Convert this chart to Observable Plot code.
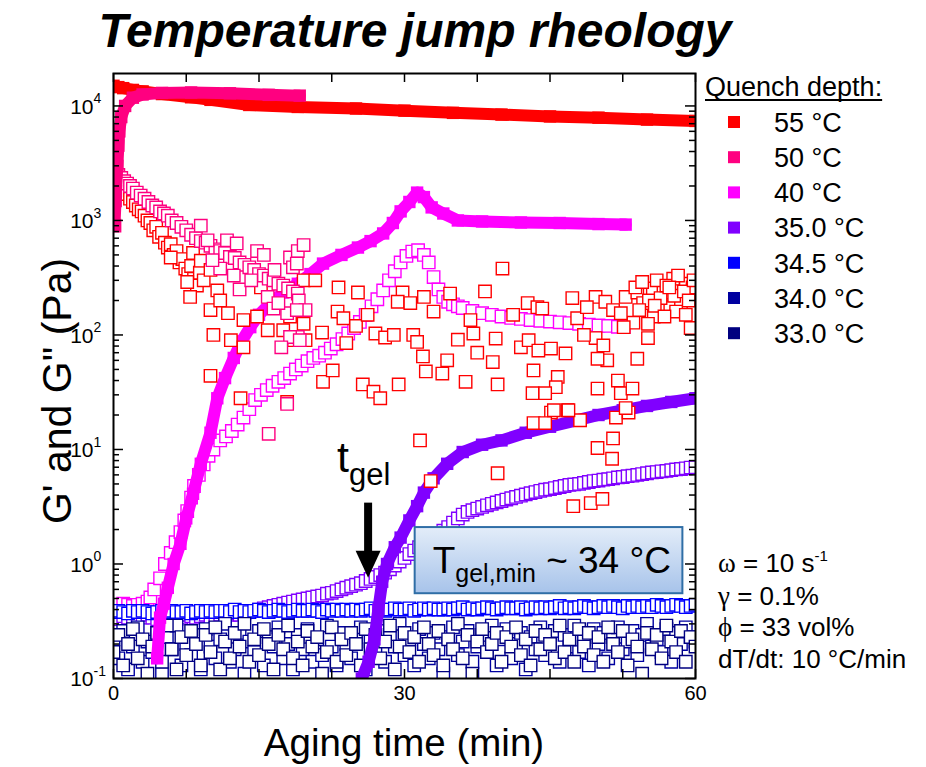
<!DOCTYPE html>
<html>
<head>
<meta charset="utf-8">
<script src="https://cdn.jsdelivr.net/npm/d3@7"></script>
<script src="https://cdn.jsdelivr.net/npm/@observablehq/plot@0.6"></script>
<style>
  html, body { margin: 0; padding: 0; background: #fff; }
  #chart svg { display: block; }
</style>
</head>
<body>
<div id="chart"></div>
<script>
// ---------------------------------------------------------------
// Temperature-jump rheology: G' (filled) and G'' (open) vs aging time
// ---------------------------------------------------------------

const titleText = "Temperature jump rheology";
const xTitle = "Aging time (min)";
const yTitle = "G' and G\" (Pa)";
const legendTitle = "Quench depth:";
const legendLabels = ["55 °C", "50 °C", "40 °C", "35.0 °C", "34.5 °C", "34.0 °C", "33.0 °C"];
const legendColors = ["#ff0000", "#ff0080", "#ff00ff", "#8000ff", "#0000ff", "#0000a0", "#000080"];

// axis ticks
const xTicks = [0, 7.5, 15, 22.5, 30, 37.5, 45, 52.5, 60];
const xTickLabels = [0, 30, 60];
const yMajor = [0.1, 1, 10, 100, 1000, 10000];
const yExp = ["-1", "0", "1", "2", "3", "4"];
const yMinor = [0.2, 0.3, 0.4, 0.5, 0.6, 0.7, 0.8, 0.9,
                2, 3, 4, 5, 6, 7, 8, 9,
                20, 30, 40, 50, 60, 70, 80, 90,
                200, 300, 400, 500, 600, 700, 800, 900,
                2000, 3000, 4000, 5000, 6000, 7000, 8000, 9000];

// regular 0.5 min sampling grid used by the low-temperature runs
const tGrid = [0,0.5,1,1.5,2,2.5,3,3.5,4,4.5,5,5.5,6,6.5,7,7.5,8,8.5,9,9.5,10,10.5,11,11.5,12,12.5,13,13.5,14,14.5,15,15.5,16,16.5,17,17.5,18,18.5,19,19.5,20,20.5,21,21.5,22,22.5,23,23.5,24,24.5,25,25.5,26,26.5,27,27.5,28,28.5,29,29.5,30,30.5,31,31.5,32,32.5,33,33.5,34,34.5,35,35.5,36,36.5,37,37.5,38,38.5,39,39.5,40,40.5,41,41.5,42,42.5,43,43.5,44,44.5,45,45.5,46,46.5,47,47.5,48,48.5,49,49.5,50,50.5,51,51.5,52,52.5,53,53.5,54,54.5,55,55.5,56,56.5,57,57.5,58,58.5,59,59.5,60];

// 55 °C — G' (Pa)
const t1_55 = [0, 0.5, 1, 2, 3, 5, 8, 10, 14, 19, 25, 30, 35, 40, 45, 50, 55, 60];
const g1_55 = [15000, 14600, 14300, 13800, 13400, 12700, 11900, 11300, 10200, 9800, 9500, 9100, 8700, 8400, 8100, 7900, 7600, 7400];

// 50 °C — G' (Pa)
const t1_50 = [0.1, 0.25, 0.4, 0.5, 0.6, 0.8, 1.2, 2, 3, 5, 8, 12, 16, 19.2];
const g1_50 = [900, 1800, 3000, 4500, 6000, 8000, 10000, 11800, 12600, 13000, 13100, 12900, 12500, 12300];

// 40 °C — G' (Pa)
const t1_40 = [4.5, 4.8, 5.2, 5.6, 6.2, 6.9, 7.5, 8.2, 9, 10, 10.7, 11.5, 12.4, 13.2, 14.1, 15, 16.2, 17.5, 19, 20.3, 21.6, 23.5, 25.2, 26.5, 27.8, 28.8, 29.6, 30.5, 31.3, 32, 32.8, 34, 35.5, 38, 42, 46, 50, 52.8];
const g1_40 = [0.15, 0.34, 0.45, 0.62, 1.0, 1.5, 2.5, 4.1, 7.5, 14, 28, 42, 63, 88, 117, 150, 190, 235, 280, 340, 420, 500, 580, 660, 770, 950, 1200, 1450, 1750, 1600, 1300, 1150, 1000, 980, 960, 950, 930, 920];

// 35.0 °C — G' (Pa)
const t1_35 = [25.6, 26.3, 26.9, 27.3, 27.7, 28.2, 29, 29.6, 30.5, 31.3, 32, 33, 34.4, 36, 38, 40, 42.5, 45, 47.5, 50, 52.5, 55, 57.5, 60];
const g1_35 = [0.1, 0.14, 0.22, 0.4, 0.7, 1.0, 1.4, 1.7, 2.4, 3.2, 4.2, 5.6, 7.5, 9.5, 11, 12, 14, 15.8, 17.8, 20, 22, 24, 26, 28];

// 55 °C — G'' (Pa), [time, value]
const g2_55 = [
  [0.2,2300],[0.5,2150],[0.8,1950],[1.1,1800],[1.4,1700],[1.7,1550],[2,1450],[2.3,1350],[2.6,1250],[2.9,1200],
  [3.2,1100],[3.5,1000],[3.8,950],[4.1,820],[4.4,880],[4.7,720],[5,780],[5.3,640],[5.6,580],[5.9,620],
  [6.2,500],[6.5,540],[6.8,430],[7.1,460],[7.4,380],[7.7,340],[8,400],[8.3,310],[8.6,270],[8.9,350],
  [5.9,475],[7.6,290],[7.9,215],[8.2,520],[9.0,445],[9.3,300],[10.0,370],[10.0,165],[10.7,245],[11.0,200],
  [11.8,155],[12.1,90],[13.4,135],[13.4,78],[10.3,100],[10.0,44],[14.8,145],[15.2,260],[15.9,110],[17.5,110],
  [18.2,145],[18.6,90],[19.6,125],[13.1,28],[17.9,26],[19.6,300],[20.8,300],[23.2,260],[25.2,235],[29.8,235],
  [29.3,195],[30.6,190],[32.0,215],[33.0,160],[34.7,230],[40.1,380],[42.7,190],[43.7,175],[23.1,160],[23.7,140],
  [21.5,105],[19.8,90],[27.0,103],[28.0,95],[28.9,100],[30.9,100],[31.3,87],[31.9,65],[34.4,60],[32.2,48],
  [33.9,46],[35.5,91],[37.1,103],[37.5,70],[39.4,93],[39.1,58],[36.3,39],[39.6,37],[21.6,39],[22.6,49],
  [25.7,37],[26.8,32],[27.5,28],[29.4,37],[42.0,78],[42.8,90],[43.3,49],[43.2,31],[43.3,17],[31.6,12],
  [44.2,170],[47.3,210],[49.7,215],[50.7,195],[51.5,165],[52.8,215],[54.0,235],[55.6,255],[57.7,310],[59.0,280],
  [59.7,260],[56.7,235],[57.4,175],[58.5,190],[54.6,190],[55.7,145],[55.1,125],[53.6,128],[52.3,155],[52.6,117],
  [55.1,94],[54.0,62],[49.7,94],[48.5,100],[50.5,81],[50.9,60],[49.9,62],[59.5,115],[43.8,73],[45.1,76],
  [46.6,69],[45.8,43],[45.6,35],[44.5,31],[49.9,34],[52.0,40],[52.3,31],[53.5,34],[45.1,21],[46.8,22],
  [48.1,18],[44.5,17],[51.8,19],[53.1,21],[51.5,12.5],[49.9,10.3],[51.4,8.3],[32.7,5.3],[39.6,6.2],[45.4,22],
  [46.9,22],[47.4,3.2],[49.2,3.4],[50.4,3.7],[52.8,23],[53.8,260],[54.5,290],[55.2,200],[56.0,300],[56.4,210],
  [57.0,270],[57.8,220],[58.2,330],[58.8,240],[59.3,200],[59.8,300],[58.0,160],[59.0,150],[55.8,180],[57.3,260],
  [54.2,165],[56.8,145],[25.0,120],[24.0,85],[26.2,150],[36.8,135],[38.3,240],[41.2,150],[47.8,140],[48.8,175]
];

// 50 °C — G'' (Pa), [time, value]
const g2_50 = [
  [0.1,900],[0.15,1500],[0.2,2700],[0.5,2500],[0.8,2350],[1.1,2200],[1.4,2100],[1.7,2000],[2,1900],[2.4,1750],
  [2.8,1650],[3.2,1550],[3.6,1450],[4,1350],[4.4,1300],[4.8,1200],[5.2,1150],[5.6,1100],[6,1000],[6.5,950],
  [7,880],[7.5,820],[8,750],[8.5,700],[9,660],[9.5,640],[10,600],[10.5,560],[11,540],[11.5,520],
  [12,480],[12.5,470],[13,430],[13.5,410],[14,390],[14.5,370],[15,340],[15.5,330],[16,310],[16.5,300],
  [17,280],[17.5,270],[18,255],[18.5,240],[19,230],
  [9.0,900],[9.7,670],[11.7,670],[12.7,630],[14.8,540],[15.5,500],[18.2,475],[18.5,390],[19.0,540],[19.6,610],
  [18.9,420],[19.1,200],[19.8,165],[19.0,96],[17.9,25],[16.0,13.7],[16.6,370],[15.9,215],[16.5,170],[17.9,155],
  [18.2,96],[18.9,165],[19.2,90],[17.3,78],[13.0,250],[14.2,300],[11.0,380],[12.4,330],[10.2,450],[17.0,190]
];

// 40 °C — G'' (Pa), [time, value]
const g2_40 = [
  [1,0.45],[1.5,0.44],[2,0.43],[2.5,0.44],[3,0.45],[3.5,0.47],[3.8,0.51],[4.2,0.6],[4.8,0.75],[5.3,1.0],
  [5.9,1.25],[6.4,1.55],[6.9,1.9],[7.3,2.4],[7.6,2.9],[8,3.8],[8.3,4.8],[8.8,6.0],[9.3,7.4],[9.8,8.8],
  [10.3,10],[11,12],[11.6,13],[12.2,14.5],[12.8,16.5],[13.4,19],[14,22.5],[14.6,27],[15.2,30],[15.8,33],
  [16.4,36],[17,39],[17.6,42],[18.2,46],[18.8,50],[19.4,54],[20,59],[20.6,63],[21.2,66],[21.8,70],
  [22.4,76],[23,83],[23.6,92],[24.2,103],[24.8,115],[25.4,130],[26,150],[26.6,178],[27.2,205],[27.8,245],
  [28.4,300],[29,360],[29.6,430],[30.2,490],[30.8,535],[31.4,550],[32,500],[32.5,430],[33,320],[33.5,250],
  [34,215],[34.5,195],[35,185],[35.5,178],[36,172],[37,162],[38,155],[39,150],[40,145],[41,141],
  [42,138],[43,135],[44,133],[45,131],[46,129],[47,127],[48,125],[49,123],[50,121],[51,120],
  [52,118],[52.6,117]
];

// 35.0 °C — G'' (Pa) on tGrid
const g2_35 = [
  0.34,0.33,0.35,0.34,0.33,0.35,0.34,0.36,0.34,0.33,0.35,0.34,0.35,0.33,0.34,0.36,0.35,0.34,0.35,0.36,
  0.34,0.35,0.36,0.35,0.36,0.37,0.36,0.37,0.38,
  0.39,0.4,0.41,0.42,0.43,0.44,0.45,0.46,
  0.47,0.48,0.49,0.5,0.51,0.52,0.53,0.55,0.56,0.58,0.6,0.62,0.64,0.66,0.68,0.71,0.74,0.77,0.8,
  0.84,0.9,0.97,1.05,1.13,1.22,1.31,1.4,1.5,1.6,1.7,1.82,1.95,2.1,2.3,2.5,2.7,2.85,2.95,3.05,
  3.15,3.25,3.35,3.45,3.55,3.65,3.75,3.85,3.95,4.05,4.15,4.25,4.35,4.45,4.5,4.6,4.7,4.8,4.9,4.95,
  5.0,5.1,5.2,5.3,5.35,5.45,5.5,5.6,5.7,5.75,5.85,5.9,6.0,6.1,6.2,6.3,6.35,6.45,6.5,6.6,
  6.7,6.75,6.85,6.95,7.0
];

// 34.5 °C — G'' (Pa) on tGrid
const g2_345 = [
  0.38,0.39,0.38,0.37,0.39,0.38,0.39,0.38,0.37,0.38,
  0.39,0.38,0.39,0.38,0.38,0.39,0.37,0.38,0.39,0.38,
  0.39,0.38,0.39,0.39,0.38,0.4,0.38,0.39,0.38,0.39,
  0.4,0.39,0.38,0.39,0.4,0.39,0.38,0.39,0.4,0.39,
  0.39,0.4,0.39,0.38,0.4,0.39,0.4,0.39,0.4,0.39,
  0.4,0.39,0.4,0.41,0.39,0.4,0.39,0.4,0.41,0.4,
  0.4,0.41,0.39,0.4,0.41,0.4,0.41,0.4,0.4,0.41,
  0.4,0.41,0.42,0.4,0.41,0.4,0.41,0.42,0.41,0.4,
  0.41,0.42,0.41,0.41,0.42,0.4,0.41,0.42,0.41,0.42,
  0.41,0.42,0.43,0.41,0.42,0.41,0.42,0.43,0.42,0.41,
  0.42,0.43,0.42,0.43,0.42,0.41,0.43,0.42,0.43,0.42,
  0.43,0.42,0.44,0.43,0.42,0.43,0.44,0.43,0.42,0.43,0.44
];

// 34.0 °C — G'' (Pa) on tGrid
const g2_34 = [
  0.22,0.15,0.26,0.12,0.19,0.28,0.14,0.21,0.17,0.25,
  0.11,0.23,0.18,0.29,0.13,0.2,0.16,0.24,0.12,0.27,
  0.19,0.15,0.22,0.3,0.14,0.18,0.25,0.11,0.21,0.17,
  0.26,0.13,0.23,0.19,0.28,0.15,0.2,0.12,0.24,0.18,
  0.27,0.14,0.22,0.16,0.29,0.19,0.13,0.25,0.2,0.15,
  0.23,0.28,0.12,0.21,0.17,0.26,0.14,0.24,0.19,0.3,
  0.16,0.22,0.13,0.27,0.2,0.15,0.25,0.18,0.11,0.23,
  0.28,0.16,0.21,0.26,0.14,0.19,0.24,0.17,0.29,0.13,
  0.22,0.27,0.15,0.2,0.25,0.12,0.23,0.18,0.28,0.16,
  0.21,0.26,0.14,0.24,0.19,0.29,0.17,0.22,0.13,0.27,
  0.2,0.25,0.15,0.23,0.28,0.18,0.21,0.26,0.16,0.24,
  0.3,0.19,0.22,0.17,0.27,0.14,0.25,0.2,0.28,0.23,0.21
];

// 33.0 °C — G'' (Pa) on tGrid
const g2_33 = [
  0.17,0.24,0.13,0.2,0.27,0.15,0.22,0.11,0.19,0.25,
  0.14,0.29,0.18,0.12,0.23,0.16,0.26,0.2,0.13,0.24,
  0.17,0.28,0.12,0.21,0.15,0.25,0.19,0.3,0.14,0.22,
  0.16,0.27,0.2,0.12,0.24,0.18,0.29,0.15,0.21,0.13,
  0.26,0.19,0.23,0.11,0.17,0.28,0.14,0.22,0.16,0.25,
  0.2,0.13,0.27,0.18,0.24,0.15,0.21,0.29,0.12,0.19,
  0.25,0.17,0.23,0.14,0.28,0.2,0.16,0.26,0.13,0.22,
  0.18,0.3,0.15,0.24,0.11,0.21,0.27,0.17,0.2,0.25,
  0.14,0.23,0.19,0.28,0.16,0.22,0.13,0.26,0.18,0.24,
  0.2,0.15,0.29,0.17,0.22,0.14,0.27,0.19,0.25,0.16,
  0.23,0.14,0.28,0.2,0.17,0.26,0.13,0.22,0.19,0.11,
  0.25,0.18,0.24,0.15,0.29,0.21,0.17,0.26,0.14,0.23,0.19
];

// annotations (data coordinates)
const tGel = 26.3;              // gel time marked by the arrow
const arrowFrom = 3.4, arrowTo = 0.75;
const boxT = [31.1, 58.7], boxV = [2.08, 0.55];
const conditions = ["ω = 10 s", "γ = 0.1%", "ϕ = 33 vol%", "dT/dt: 10 °C/min"];

// ---------------------------------------------------------------
const FONT = '"Liberation Sans", Arial, Helvetica, sans-serif';
const SERIF = '"Liberation Serif", "DejaVu Serif", serif';
const W = 926, H = 767;
const M = {top: 73, right: 231, bottom: 89, left: 113};
const FW = W - M.left - M.right;   // frame width
const FH = H - M.top - M.bottom;   // frame height
const SQ = 7;                      // square symbol radius (≈12 px side)

const [C55, C50, C40, C35, C345, C34, C33] = legendColors;

const gridSeries = vals => vals.map((v, i) => ({t: tGrid[i], v}));
const pairSeries = pairs => pairs.map(([t, v]) => ({t, v}));
const listSeries = (ts, vs) => ts.map((t, i) => ({t, v: vs[i]}));

const open = (data, color) => Plot.dot(data, {
  x: "t", y: "v", symbol: "square", r: SQ, fill: "white",
  stroke: color, strokeWidth: 1.4, clip: true
});
const filled = (data, color) => [
  Plot.line(data, {x: "t", y: "v", stroke: color, strokeWidth: 12, strokeLinejoin: "round", clip: true}),
  Plot.dot(data, {x: "t", y: "v", symbol: "square", r: SQ, fill: color, clip: true})
];

const chart = Plot.plot({
  width: W, height: H,
  marginTop: M.top, marginRight: M.right, marginBottom: M.bottom, marginLeft: M.left,
  style: {fontFamily: FONT, background: "white", color: "black", overflow: "visible"},
  x: {domain: [0, 60], axis: null},
  y: {type: "log", domain: [0.1, 19200], axis: null},
  marks: [
    open(gridSeries(g2_35), C35),
    open(pairSeries(g2_40), C40),
    open(gridSeries(g2_345), C345),
    open(gridSeries(g2_34), C34),
    open(gridSeries(g2_33), C33),
    ...filled(listSeries(t1_40, g1_40), C40),
    ...filled(listSeries(t1_35, g1_35), C35),
    open(pairSeries(g2_55), C55),
    open(pairSeries(g2_50), C50),
    ...filled(listSeries(t1_55, g1_55), C55),
    ...filled(listSeries(t1_50, g1_50), C50),

    // inward ticks on all four sides
    Plot.tickX(xTicks, {x: d => d, insetTop: FH - 9, strokeWidth: 1.5}),
    Plot.tickX(xTicks, {x: d => d, insetBottom: FH - 9, strokeWidth: 1.5}),
    Plot.tickY(yMajor, {y: d => d, insetRight: FW - 10, strokeWidth: 1.5}),
    Plot.tickY(yMajor, {y: d => d, insetLeft: FW - 10, strokeWidth: 1.5}),
    Plot.tickY(yMinor, {y: d => d, insetRight: FW - 6, strokeWidth: 1.5}),
    Plot.tickY(yMinor, {y: d => d, insetLeft: FW - 6, strokeWidth: 1.5}),

    // tick labels
    Plot.text(xTickLabels, {x: d => d, frameAnchor: "bottom", dy: 21, text: d => String(d), fontSize: 20}),
    Plot.text(yMajor, {y: d => d, frameAnchor: "left", dx: -20, dy: 1, textAnchor: "end", text: () => "10", fontSize: 21}),
    Plot.text(yMajor, {y: d => d, frameAnchor: "left", dx: -20, dy: -7, textAnchor: "start", text: (d, i) => yExp[i], fontSize: 14}),

    Plot.frame({stroke: "black", strokeWidth: 2})
  ]
});

document.getElementById("chart").appendChild(chart);

// ---------------------------------------------------------------
// titles, legend and annotations
const svg = d3.select(chart);
const xs = chart.scale("x"), ys = chart.scale("y");
const X = v => xs.apply(v), Y = v => ys.apply(v);

function addText(x, y, parts, attrs = {}) {
  const t = svg.append("text").attr("x", x).attr("y", y)
    .attr("font-family", FONT).attr("fill", "black").attr("text-anchor", "start");
  for (const [k, v] of Object.entries(attrs)) t.attr(k, v);
  for (const p of parts) {
    const s = t.append("tspan").text(p.text);
    if (p.size) s.attr("font-size", p.size);
    if (p.family) s.attr("font-family", p.family);
    if (p.dy) s.attr("dy", p.dy);
  }
  return t;
}

// title
addText(415, 47, [{text: titleText}], {
  "text-anchor": "middle", "font-size": 48, "font-weight": "bold", "font-style": "italic"
});

// axis titles
addText(X(30), 756, [{text: xTitle}], {"text-anchor": "middle", "font-size": 38.5});
addText(0, 0, [{text: yTitle}], {
  "text-anchor": "middle", "font-size": 41, transform: "translate(71,391) rotate(-90)"
});

// legend
const lt = addText(705, 96, [{text: legendTitle}], {"font-size": 27});
const ltw = lt.node().getComputedTextLength();
svg.append("line").attr("x1", 705).attr("x2", 705 + ltw).attr("y1", 100).attr("y2", 100)
  .attr("stroke", "black").attr("stroke-width", 2);
legendLabels.forEach((lab, i) => {
  const cy = 122 + 35.2 * i;
  svg.append("rect").attr("x", 728).attr("y", cy - 6).attr("width", 12).attr("height", 12)
    .attr("fill", legendColors[i]);
  addText(774, cy, [{text: lab}], {"font-size": 27, dy: "0.36em"});
});

// measurement conditions
const condY = [572, 605, 636, 668];
addText(718, condY[0], [
  {text: conditions[0].slice(0, 1), family: SERIF, size: 27},
  {text: conditions[0].slice(1)},
  {text: "-1", size: 15, dy: -11}
], {"font-size": 26});
addText(718, condY[1], [
  {text: conditions[1].slice(0, 1), family: SERIF, size: 27},
  {text: conditions[1].slice(1)}
], {"font-size": 26});
addText(718, condY[2], [
  {text: conditions[2].slice(0, 1), family: SERIF, size: 27},
  {text: conditions[2].slice(1)}
], {"font-size": 26});
addText(718, condY[3], [{text: conditions[3]}], {"font-size": 26});

// T_gel,min box
const defs = svg.append("defs");
const grad = defs.append("linearGradient").attr("id", "tgelFill")
  .attr("x1", 0).attr("y1", 0).attr("x2", 0).attr("y2", 1);
grad.append("stop").attr("offset", "0%").attr("stop-color", "#e3edf9");
grad.append("stop").attr("offset", "100%").attr("stop-color", "#a7c3ea");
const bx0 = X(boxT[0]), bx1 = X(boxT[1]), by0 = Y(boxV[0]), by1 = Y(boxV[1]);
svg.append("rect").attr("x", bx0).attr("y", by0).attr("width", bx1 - bx0).attr("height", by1 - by0)
  .attr("fill", "url(#tgelFill)").attr("stroke", "#2f6ea6").attr("stroke-width", 2);
addText(bx0 + 18, by0 + 46, [
  {text: "T"},
  {text: "gel,min", size: 25, dy: 9},
  {text: " ~ 34 °C", dy: -9}
], {"font-size": 37});

// t_gel label and arrow
const ax = X(tGel), ay0 = Y(arrowFrom), ay1 = Y(arrowTo);
addText(ax - 31, ay0 - 31, [
  {text: "t"},
  {text: "gel", size: 31, dy: 13}
], {"font-size": 43});
svg.append("rect").attr("x", ax - 4).attr("y", ay0).attr("width", 8).attr("height", ay1 - ay0 - 24)
  .attr("fill", "black");
svg.append("path")
  .attr("d", `M${ax - 12.5},${ay1 - 27}L${ax + 12.5},${ay1 - 27}L${ax},${ay1}Z`)
  .attr("fill", "black");
</script>
</body>
</html>
